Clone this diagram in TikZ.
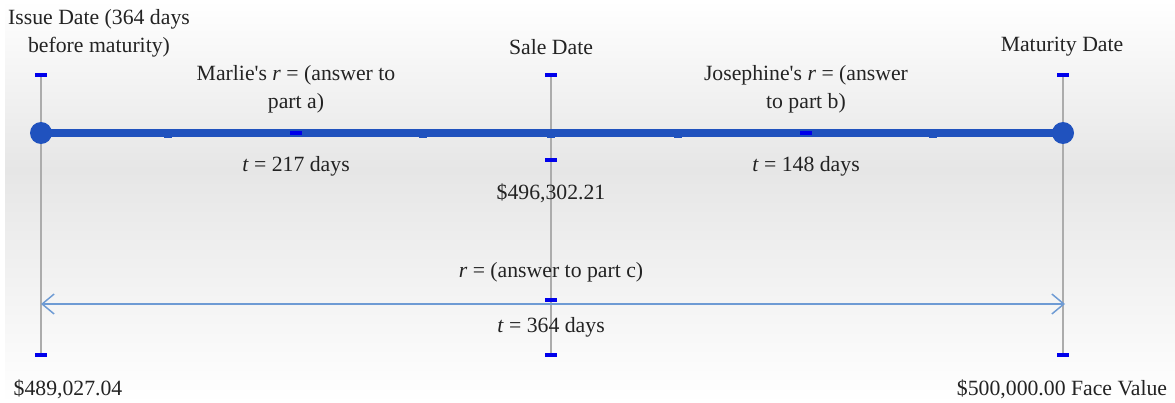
\documentclass[tikz,border=0pt]{standalone}
\usepackage{fontspec}
\setmainfont{Liberation Serif}
\usetikzlibrary{arrows.meta}
\definecolor{mainblue}{RGB}{32,82,190}
\definecolor{tickblue}{RGB}{0,0,235}
\definecolor{arrowblue}{RGB}{110,155,212}
\definecolor{vgray}{RGB}{172,172,172}
\definecolor{bggray}{RGB}{230,230,230}
\definecolor{txt}{RGB}{35,35,35}
\begin{document}
\begin{tikzpicture}[x=0.75pt,y=-0.75pt,
  lbl/.style={font=\fontsize{16.3}{21}\selectfont, text=txt, align=center, inner sep=0pt},
  tickmark/.style={fill=tickblue, minimum width=9pt, minimum height=2.3pt, inner sep=0pt},
  bump/.style={fill=mainblue, minimum width=6pt, minimum height=2.5pt, inner sep=0pt},
  vline/.style={draw=vgray, line width=1.1pt},
  mainline/.style={draw=mainblue, line width=5.3pt},
  enddot/.style={circle, fill=mainblue, minimum size=16.5pt, inner sep=0pt},
  arrowline/.style={draw=arrowblue, line width=1.1pt, {Straight Barb[length=9pt,width=15pt,line width=1.1pt]}-{Straight Barb[length=9pt,width=15pt,line width=1.1pt]}}
]
\useasboundingbox (0,0) rectangle (1175,403);
\shade[top color=white, bottom color=bggray] (5,0) rectangle (1175,170);
\shade[top color=bggray, bottom color=white] (5,170) rectangle (1175,403);

% coordinates
\coordinate (Ltop) at (41,75);
\coordinate (Lbot) at (41,355);
\coordinate (Mtop) at (551,75);
\coordinate (Mbot) at (551,355);
\coordinate (Rtop) at (1063,75);
\coordinate (Rbot) at (1063,355);
\coordinate (Lmid) at (41,133);
\coordinate (Rmid) at (1063,133);
\coordinate (aL) at (41,304);
\coordinate (aR) at (1065,304);

% vertical lines
\draw[vline] (Ltop) -- (Lbot);
\draw[vline] (Mtop) -- (Mbot);
\draw[vline] (Rtop) -- (Rbot);

% main time line
\draw[mainline] (Lmid) -- (Rmid);
\foreach \x/\n in {168/b1,423/b2,551/b3,678/b4,933/b5}{
  \node[bump] (\n) at (\x,136) {};
}
\node[enddot] (dotL) at (Lmid) {};
\node[enddot] (dotR) at (Rmid) {};

% blue ticks
\node[tickmark] (tL1) at (Ltop) {};
\node[tickmark] (tM1) at (Mtop) {};
\node[tickmark] (tR1) at (Rtop) {};
\node[tickmark] (tP1) at (296,133) {};
\node[tickmark] (tP2) at (806,133) {};
\node[tickmark] (tM2) at (551,160) {};
\node[tickmark] (tM3) at (551,300) {};
\node[tickmark] (tL2) at (Lbot) {};
\node[tickmark] (tM4) at (Mbot) {};
\node[tickmark] (tR2) at (Rbot) {};

% arrow
\draw[arrowline] (aL) -- (aR);

% labels
\node[lbl] (issue) at (99,33) {Issue Date (364 days\\before maturity)};
\node[lbl] (sale) at (551,47) {Sale Date};
\node[lbl] (mat) at (1062,47) {Maturity Date};
\node[lbl] (marlie) at (296,89) {Marlie\textquotesingle s \textit{r} = (answer to\\part a)};
\node[lbl] (jose) at (806,89) {Josephine\textquotesingle s \textit{r} = (answer\\to part b)};
\node[lbl] (t217) at (296,166) {\textit{t} = 217 days};
\node[lbl] (t148) at (806,166) {\textit{t} = 148 days};
\node[lbl] (p496) at (551,193) {\$496,302.21};
\node[lbl] (rc) at (551,272) {\textit{r} = (answer to part c)};
\node[lbl] (t364) at (551,327) {\textit{t} = 364 days};
\node[lbl] (p489) at (68,389) {\$489,027.04};
\node[lbl] (p500) at (1062,389) {\$500,000.00 Face Value};
\end{tikzpicture}
\end{document}
